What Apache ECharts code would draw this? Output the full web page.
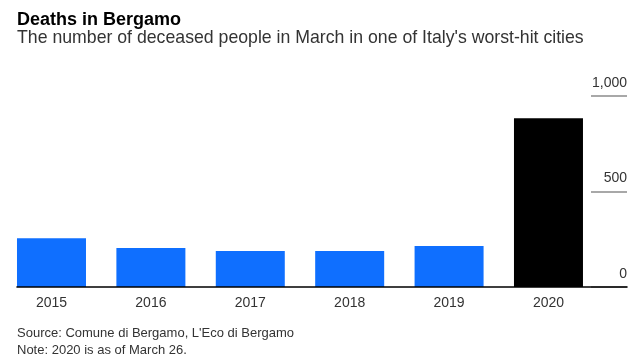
<!DOCTYPE html>
<html>
<head>
<meta charset="utf-8">
<script src="https://cdn.jsdelivr.net/npm/echarts@6/dist/echarts.min.js"></script>
<style>
html,body{margin:0;padding:0;background:#fff;}
#chart{width:644px;height:360px;}
</style>
</head>
<body>
<div id="chart"></div>
<script>
const years = ['2015', '2016', '2017', '2018', '2019', '2020'];
const deaths = [255, 204, 188, 188, 215, 883];
const yMax = 1000;
const yStep = 500;

const FONT = '"Liberation Sans", Arial, Helvetica, sans-serif';
const chart = echarts.init(document.getElementById('chart'), null, {renderer: 'canvas'});

chart.setOption({
  backgroundColor: '#ffffff',
  animation: false,
  title: [
    {text: 'Deaths in Bergamo', left: 17, top: 11.5, padding: 0,
     textStyle: {fontFamily: FONT, fontSize: 18, fontWeight: 'bold', color: '#000'}},
    {text: "The number of deceased people in March in one of Italy's worst-hit cities", left: 17, top: 29.5, padding: 0,
     textStyle: {fontFamily: FONT, fontSize: 17.7, fontWeight: 'normal', color: '#333'}},
    {text: "Source: Comune di Bergamo, L'Eco di Bergamo", left: 17, top: 327, padding: 0,
     textStyle: {fontFamily: FONT, fontSize: 13, fontWeight: 'normal', color: '#333'}},
    {text: 'Note: 2020 is as of March 26.', left: 17, top: 343.5, padding: 0,
     textStyle: {fontFamily: FONT, fontSize: 13, fontWeight: 'normal', color: '#333'}}
  ],
  grid: {left: 17, right: 17, top: 96, bottom: 73, containLabel: false},
  xAxis: {
    type: 'value',
    z: 5,
    min: -0.347,
    max: 5.79,
    splitLine: {show: false},
    axisTick: {show: false},
    axisLine: {show: true, onZero: false, lineStyle: {color: '#000', width: 1.6}},
    axisLabel: {
      customValues: years.map((_, i) => i),
      formatter: v => years[Math.round(v)],
      fontFamily: FONT, fontSize: 14, color: '#333', margin: 9
    }
  },
  yAxis: {
    type: 'value',
    z: 1,
    position: 'right',
    min: 0,
    max: yMax,
    interval: yStep,
    splitLine: {show: false},
    axisLine: {show: false, onZero: false},
    axisTick: {show: true, inside: true, length: 36,
               lineStyle: {color: '#8c8c8c', width: 1.5}},
    axisLabel: {
      inside: true, margin: 0, align: 'right', verticalAlign: 'bottom',
      lineHeight: 14, padding: [0, 0, 6, 0],
      fontFamily: FONT, fontSize: 14, color: '#333',
      formatter: v => v.toLocaleString('en-US')
    }
  },
  series: [{
    type: 'bar',
    barWidth: 69,
    data: deaths.map((d, i) => [i, d]),
    itemStyle: {
      color: p => p.dataIndex === years.length - 1 ? '#000000' : '#0f6fff'
    }
  }]
});
</script>
</body>
</html>
